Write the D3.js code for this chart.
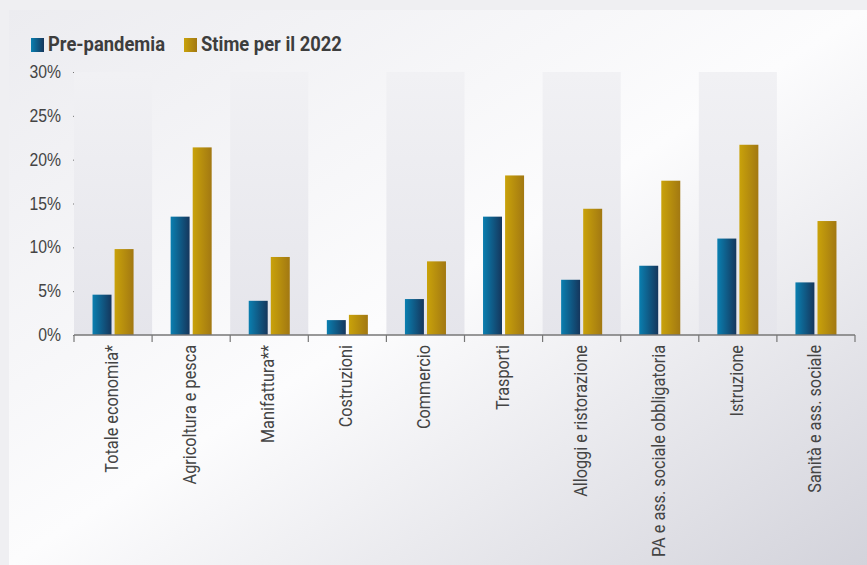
<!DOCTYPE html>
<html>
<head>
<meta charset="utf-8">
<script src="https://cdn.jsdelivr.net/npm/d3@7"></script>
<style>
  html, body { margin: 0; padding: 0; }
  svg { display: block; font-family: Roboto, "Noto Sans", sans-serif; }
</style>
</head>
<body>
<div id="chart"></div>
<script>
// Categories along the x axis
var settori = ["Totale economia*", "Agricoltura e pesca", "Manifattura**", "Costruzioni",
  "Commercio", "Trasporti", "Alloggi e ristorazione", "PA e ass. sociale obbligatoria",
  "Istruzione", "Sanità e ass. sociale"];
// Series values (%)
var prePandemia = [4.6, 13.5, 3.9, 1.7, 4.1, 13.5, 6.3, 7.9, 11.0, 6.0];
var stime2022 = [9.8, 21.4, 8.9, 2.3, 8.4, 18.2, 14.4, 17.6, 21.7, 13.0];
var serie = ["Pre-pandemia", "Stime per il 2022"];
var yTicks = [0, 5, 10, 15, 20, 25, 30];

var w = 867;
var h = 565;
var margin = { top: 72, left: 74, right: 12, bottom: 230 };

var svg = d3.select("#chart")
  .append("svg")
  .attr("width", w)
  .attr("height", h);

var defs = svg.append("defs");

var bg = defs.append("linearGradient").attr("id", "bg")
  .attr("x1", 0).attr("y1", 0).attr("x2", 1).attr("y2", 1);
bg.append("stop").attr("offset", 0).attr("stop-color", "#ececf0");
bg.append("stop").attr("offset", 0.5).attr("stop-color", "#fcfcfd");
bg.append("stop").attr("offset", 1).attr("stop-color", "#d3d3db");

var band = defs.append("linearGradient").attr("id", "band")
  .attr("x1", 0).attr("y1", 0).attr("x2", 0).attr("y2", 1);
band.append("stop").attr("offset", 0).attr("stop-color", "#f1f1f4");
band.append("stop").attr("offset", 1).attr("stop-color", "#e5e5eb");

var blu = defs.append("linearGradient").attr("id", "blu");
blu.append("stop").attr("offset", 0).attr("stop-color", "#0a7fb0");
blu.append("stop").attr("offset", 1).attr("stop-color", "#15365c");

var oro = defs.append("linearGradient").attr("id", "oro");
oro.append("stop").attr("offset", 0).attr("stop-color", "#c9a20a");
oro.append("stop").attr("offset", 1).attr("stop-color", "#a27812");

var fills = ["url(#blu)", "url(#oro)"];

// background
svg.append("rect").attr("width", w).attr("height", h).attr("fill", "#efeff2");
svg.append("rect").attr("x", 9).attr("y", 10).attr("width", w - 9).attr("height", h - 10)
  .attr("fill", "url(#bg)");

var x0 = d3.scaleBand()
  .domain(settori)
  .range([margin.left, w - margin.right]);

var x1 = d3.scaleBand()
  .domain(serie)
  .range([0, x0.bandwidth()])
  .paddingInner(0.14)
  .paddingOuter(0.84);

var y = d3.scaleLinear()
  .domain([0, 30])
  .range([h - margin.bottom, margin.top]);

// alternating bands
svg.append("g").selectAll("rect")
  .data(settori.filter(function (d, i) { return i % 2 === 0; }))
  .enter()
  .append("rect")
  .attr("x", function (d) { return x0(d); })
  .attr("y", y(30))
  .attr("width", x0.bandwidth())
  .attr("height", y(0) - y(30))
  .attr("fill", "url(#band)");

// bars
var gruppi = svg.append("g").selectAll("g")
  .data(settori)
  .enter()
  .append("g")
  .attr("transform", function (d) { return "translate(" + x0(d) + ",0)"; });

gruppi.selectAll("rect")
  .data(function (d, i) {
    return [{ s: serie[0], v: prePandemia[i], k: 0 }, { s: serie[1], v: stime2022[i], k: 1 }];
  })
  .enter()
  .append("rect")
  .attr("x", function (d) { return x1(d.s); })
  .attr("y", function (d) { return y(d.v); })
  .attr("width", x1.bandwidth())
  .attr("height", function (d) { return y(0) - y(d.v); })
  .attr("fill", function (d) { return fills[d.k]; });

// y axis
var yAxis = svg.append("g")
  .attr("transform", "translate(" + margin.left + ",0)")
  .call(d3.axisLeft(y).tickValues(yTicks).tickSize(6).tickPadding(6)
    .tickFormat(function (d) { return d + "%"; }));
yAxis.select(".domain").remove();
yAxis.selectAll(".tick line").attr("stroke", "#777").attr("x2", -1);
yAxis.selectAll(".tick text")
  .attr("fill", "#444")
  .style("font-size", "17.5px")
  .each(function () {
    var t = d3.select(this);
    var xx = +t.attr("x");
    t.attr("x", null)
      .attr("transform", "translate(" + (xx - 1) + ",0) scale(0.9,1)");
  });

// x axis
var xAxis = svg.append("g")
  .attr("transform", "translate(0," + y(0) + ")");
xAxis.append("line")
  .attr("x1", x0.range()[0]).attr("x2", x0.range()[1])
  .attr("stroke", "#777").attr("stroke-width", 1.5);
xAxis.selectAll(".sep")
  .data(settori.concat(["fine"]))
  .enter()
  .append("line")
  .attr("class", "sep")
  .attr("x1", function (d, i) { return x0.range()[0] + i * x0.step(); })
  .attr("x2", function (d, i) { return x0.range()[0] + i * x0.step(); })
  .attr("y1", 0).attr("y2", 7)
  .attr("stroke", "#777").attr("stroke-width", 1.2);
xAxis.selectAll(".lab")
  .data(settori)
  .enter()
  .append("text")
  .attr("class", "lab")
  .attr("transform", function (d) {
    return "translate(" + (x0(d) + x0.bandwidth() / 2 + 5) + ",10) rotate(-90) scale(0.93,1)";
  })
  .attr("text-anchor", "end")
  .attr("fill", "#444")
  .style("font-size", "17.5px")
  .text(function (d) { return d; });

// legend
var legenda = svg.append("g");
var legX = [31, 184];
serie.forEach(function (s, i) {
  legenda.append("rect")
    .attr("x", legX[i]).attr("y", 38)
    .attr("width", 13).attr("height", 14)
    .attr("fill", fills[i]);
  legenda.append("text")
    .attr("transform", "translate(" + (legX[i] + 17) + ",51) scale(0.92,1)")
    .attr("fill", "#3d3d3d")
    .style("font-size", "20px")
    .style("font-weight", "bold")
    .text(s);
});
</script>
</body>
</html>
